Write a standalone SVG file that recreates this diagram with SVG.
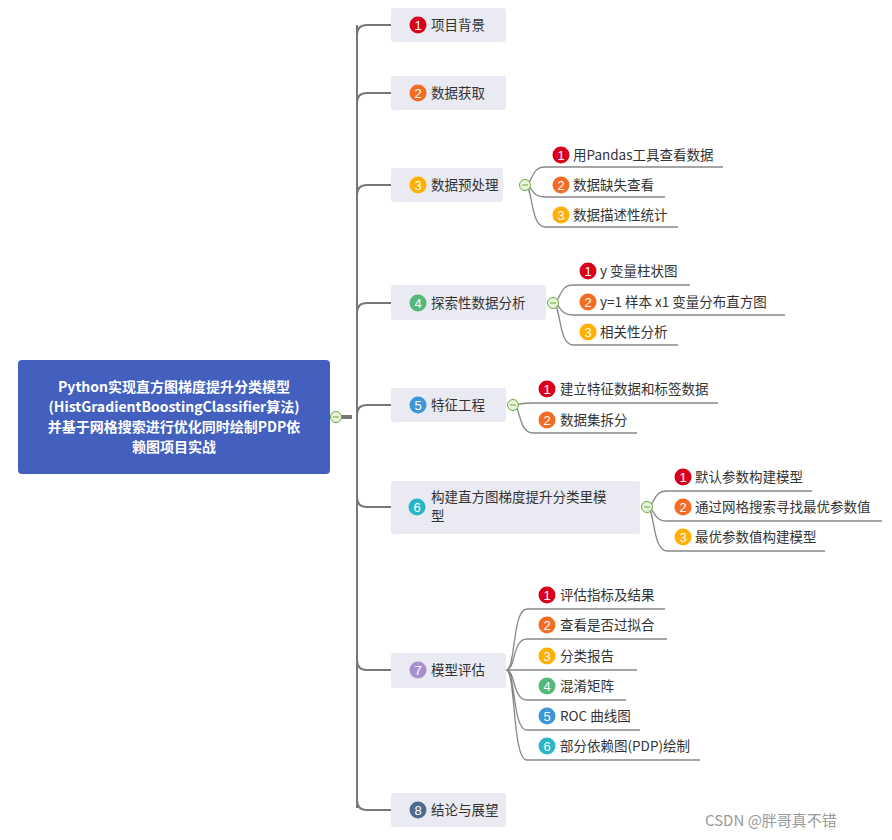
<svg xmlns="http://www.w3.org/2000/svg" width="892" height="840" viewBox="0 0 892 840">
<style>
text{font-family:"Microsoft YaHei","Noto Sans CJK SC",sans-serif;font-size:13.5px;fill:#333}
.box{fill:#e9eaf2}
.n{fill:#fff;font-size:13px;text-anchor:middle;font-family:"Liberation Sans",sans-serif}
.c{fill:none;stroke:#888;stroke-width:1.3}
.b{fill:none;stroke:#777;stroke-width:2}
.col{fill:#e9f4dc;stroke:#6aa83a;stroke-width:1}
circle{r:8.5}
circle.col{r:5.5}
</style>
<rect width="892" height="840" fill="#fff"/>
<g id="connectors">
<path d="M340,417 H352" stroke="#777" stroke-width="4"/>
<path class="b" d="M357,25 V808" stroke-width="3"/>
<path class="b" d="M357,35 Q357,25 367,25 H391 M357,103 Q357,93 367,93 H391 M357,195 Q357,185 367,185 H391 M357,313 Q357,303 367,303 H391 M357,415 Q357,405 367,405 H391 M357,497 Q357,507 367,507 H391 M357,660 Q357,670 367,670 H391 M357,800 Q357,810 367,810 H391"/>
<path class="c" d="M525,185 C533,185 530,167 545,167 H723 M525,185 C533,185 530,197 545,197 H665 M525,185 C533,185 530,227 545,227 H678"/>
<path class="c" d="M553,303 C561,303 558,285 573,285 H690 M553,303 C561,303 558,315 573,315 H785 M553,303 C561,303 558,345 573,345 H678"/>
<path class="c" d="M513,405 C521,405 518,403 533,403 H718 M513,405 C521,405 518,433 533,433 H637"/>
<path class="c" d="M647,507 C655,507 652,491 667,491 H812 M647,507 C655,507 652,521 667,521 H882 M647,507 C655,507 652,551 667,551 H825"/>
<path class="c" d="M506,670 C516,670 512,609 527,609 H665 M506,670 C516,670 512,639 527,639 H667 M506,670 C516,670 512,670 527,670 H637 M506,670 C516,670 512,700 527,700 H626 M506,670 C516,670 512,730 527,730 H640 M506,670 C516,670 512,760 527,760 H700"/>
</g>
<g id="root">
<rect x="18" y="360" width="312" height="114" rx="4" fill="#4460be"/>
<g font-weight="bold" text-anchor="middle"><text x="174" y="392" style="fill:#fff;font-size:14px">Python实现直方图梯度提升分类模型</text><text x="174" y="412" style="fill:#fff;font-size:14px">(HistGradientBoostingClassifier算法)</text><text x="174" y="432" style="fill:#fff;font-size:14px">并基于网格搜索进行优化同时绘制PDP依</text><text x="174" y="452" style="fill:#fff;font-size:14px">赖图项目实战</text></g>
<circle class="col" cx="336" cy="417" r="5"/><path d="M333,417H339" stroke="#6aa83a"/>
</g>
<g id="n1"><rect class="box" x="391" y="8" width="115" height="34" rx="3"/><circle cx="418" cy="25" r="7" fill="#d9001b"/><text class="n" x="418" y="30">1</text><text x="431" y="30">项目背景</text></g>
<g id="n2"><rect class="box" x="391" y="76" width="115" height="34" rx="3"/><circle cx="418" cy="93" r="7" fill="#f26c23"/><text class="n" x="418" y="98">2</text><text x="431" y="98">数据获取</text></g>
<g id="n3"><rect class="box" x="391" y="168" width="112" height="34" rx="3"/><circle cx="418" cy="185" r="7" fill="#ffb000"/><text class="n" x="418" y="190">3</text><text x="431" y="190">数据预处理</text>
<circle class="col" cx="525" cy="185" r="5"/><path d="M522,185H528" stroke="#6aa83a"/>
<circle cx="561" cy="155" r="7" fill="#d9001b"/><text class="n" x="561" y="160">1</text><text x="573" y="160">用Pandas工具查看数据</text>
<circle cx="561" cy="185" r="7" fill="#f26c23"/><text class="n" x="561" y="190">2</text><text x="573" y="190">数据缺失查看</text>
<circle cx="561" cy="215" r="7" fill="#ffb000"/><text class="n" x="561" y="220">3</text><text x="573" y="220">数据描述性统计</text></g>
<g id="n4"><rect class="box" x="391" y="285" width="155" height="35" rx="3"/><circle cx="418" cy="303" r="7" fill="#52b87b"/><text class="n" x="418" y="308">4</text><text x="431" y="308">探索性数据分析</text>
<circle class="col" cx="553" cy="303" r="5"/><path d="M550,303H556" stroke="#6aa83a"/>
<circle cx="588" cy="271" r="7" fill="#d9001b"/><text class="n" x="588" y="276">1</text><text x="600" y="276">y 变量柱状图</text>
<circle cx="588" cy="302" r="7" fill="#f26c23"/><text class="n" x="588" y="307">2</text><text x="600" y="307">y=1 样本 x1 变量分布直方图</text>
<circle cx="588" cy="332" r="7" fill="#ffb000"/><text class="n" x="588" y="337">3</text><text x="600" y="337">相关性分析</text></g>
<g id="n5"><rect class="box" x="391" y="388" width="115" height="34" rx="3"/><circle cx="418" cy="405" r="7" fill="#3d96d8"/><text class="n" x="418" y="410">5</text><text x="431" y="410">特征工程</text>
<circle class="col" cx="513" cy="405" r="5"/><path d="M510,405H516" stroke="#6aa83a"/>
<circle cx="547" cy="389" r="7" fill="#d9001b"/><text class="n" x="547" y="394">1</text><text x="560" y="394">建立特征数据和标签数据</text>
<circle cx="547" cy="420" r="7" fill="#f26c23"/><text class="n" x="547" y="425">2</text><text x="560" y="425">数据集拆分</text></g>
<g id="n6"><rect class="box" x="391" y="481" width="249" height="53" rx="3"/><circle cx="417" cy="507" r="7" fill="#2bb5c8"/><text class="n" x="417" y="512">6</text><text x="431" y="502">构建直方图梯度提升分类里模</text><text x="431" y="521">型</text>
<circle class="col" cx="647" cy="507" r="5"/><path d="M644,507H650" stroke="#6aa83a"/>
<circle cx="683" cy="477" r="7" fill="#d9001b"/><text class="n" x="683" y="482">1</text><text x="695" y="482">默认参数构建模型</text>
<circle cx="683" cy="507" r="7" fill="#f26c23"/><text class="n" x="683" y="512">2</text><text x="695" y="512">通过网格搜索寻找最优参数值</text>
<circle cx="683" cy="537" r="7" fill="#ffb000"/><text class="n" x="683" y="542">3</text><text x="695" y="542">最优参数值构建模型</text></g>
<g id="n7"><rect class="box" x="391" y="653" width="115" height="35" rx="3"/><circle cx="418" cy="670" r="7" fill="#a88fd0"/><text class="n" x="418" y="675">7</text><text x="431" y="675">模型评估</text>
<circle cx="547" cy="595" r="7" fill="#d9001b"/><text class="n" x="547" y="600">1</text><text x="560" y="600">评估指标及结果</text>
<circle cx="547" cy="625" r="7" fill="#f26c23"/><text class="n" x="547" y="630">2</text><text x="560" y="630">查看是否过拟合</text>
<circle cx="547" cy="656" r="7" fill="#ffb000"/><text class="n" x="547" y="661">3</text><text x="560" y="661">分类报告</text>
<circle cx="547" cy="686" r="7" fill="#52b87b"/><text class="n" x="547" y="691">4</text><text x="560" y="691">混淆矩阵</text>
<circle cx="547" cy="716" r="7" fill="#3d96d8"/><text class="n" x="547" y="721">5</text><text x="560" y="721">ROC 曲线图</text>
<circle cx="547" cy="746" r="7" fill="#2bb5c8"/><text class="n" x="547" y="751">6</text><text x="560" y="751">部分依赖图(PDP)绘制</text></g>
<g id="n8"><rect class="box" x="391" y="793" width="115" height="34" rx="3"/><circle cx="418" cy="810" r="7" fill="#4e6a8d"/><text class="n" x="418" y="815">8</text><text x="431" y="815">结论与展望</text></g>
<text x="705" y="826" style="fill:#9a9a9a;font-size:15px">CSDN @胖哥真不错</text>
</svg>
